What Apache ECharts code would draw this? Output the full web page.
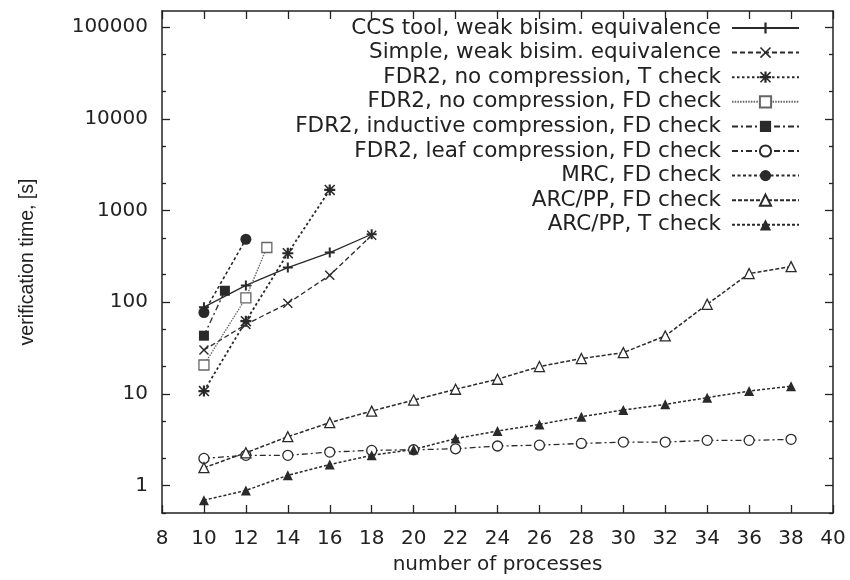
<!DOCTYPE html>
<html>
<head>
<meta charset="utf-8">
<script src="https://cdn.jsdelivr.net/npm/echarts@6/dist/echarts.min.js"></script>
<style>
html,body{margin:0;padding:0;background:#fff;}
#main{width:850px;height:580px;}
</style>
</head>
<body>
<div id="main"></div>
<script>
// ---- data ----
const seriesNames = [
  'CCS tool, weak bisim. equivalence',
  'Simple, weak bisim. equivalence',
  'FDR2, no compression, T check',
  'FDR2, no compression, FD check',
  'FDR2, inductive compression, FD check',
  'FDR2, leaf compression, FD check',
  'MRC, FD check',
  'ARC/PP, FD check',
  'ARC/PP, T check'
];
const ccsN = [10, 12, 14, 16, 18];
const ccsT = [88, 152, 238, 347, 550];
const simpleN = [10, 12, 14, 16, 18];
const simpleT = [30, 57, 97, 196, 536];
const fdrTN = [10, 12, 14, 16];
const fdrTT = [10.7, 62, 341, 1675];
const fdrFdN = [10, 12, 13];
const fdrFdT = [20.6, 111, 394];
const indN = [10, 11];
const indT = [43, 133];
const leafN = [10, 12, 14, 16, 18, 20, 22, 24, 26, 28, 30, 32, 34, 36, 38];
const leafT = [1.97, 2.13, 2.13, 2.31, 2.41, 2.45, 2.51, 2.69, 2.75, 2.87, 2.97, 2.97, 3.1, 3.1, 3.18];
const mrcN = [10, 12];
const mrcT = [77, 485];
const arcFdN = [10, 12, 14, 16, 18, 20, 22, 24, 26, 28, 30, 32, 34, 36, 38];
const arcFdT = [1.56, 2.27, 3.4, 4.84, 6.47, 8.53, 11.2, 14.4, 19.8, 24.2, 28.1, 42.7, 94.6, 205, 244];
const arcTN = [10, 12, 14, 16, 18, 20, 22, 24, 26, 28, 30, 32, 34, 36, 38];
const arcTT = [0.69, 0.88, 1.29, 1.69, 2.13, 2.47, 3.24, 3.92, 4.63, 5.62, 6.64, 7.66, 9.06, 10.7, 12.1];
const yMajorTicks = [1, 10, 100, 1000, 10000, 100000];
const yMinorTicks = [0.5, 2, 5, 20, 50, 200, 500, 2000, 5000, 20000, 50000];
const xTicks = [8, 10, 12, 14, 16, 18, 20, 22, 24, 26, 28, 30, 32, 34, 36, 38, 40];
const xTitle = 'number of processes';
const yTitle = 'verification time, [s]';

// ---- styling ----
const C = '#2a2a2a';
const plusPath = 'path://M4,0h2v4h4v2h-4v4h-2v-4h-4v-2h4z';
const xPath = 'path://M0,1L1,0L5,4L9,0L10,1L6,5L10,9L9,10L5,6L1,10L0,9L4,5Z';
const starPath = 'path://M4,0h2v4h4v2h-4v4h-2v-4h-4v-2h4zM0,1L1,0L5,4L9,0L10,1L6,5L10,9L9,10L5,6L1,10L0,9L4,5Z';

function pairs(n, t) { return n.map((v, i) => [v, t[i]]); }

const styles = [
  {n: ccsN, t: ccsT, symbol: plusPath, size: 10, fill: C, dash: 'solid', color: C, w: 1.3},
  {n: simpleN, t: simpleT, symbol: xPath, size: 10, fill: C, dash: [5, 3], color: C, w: 1.3},
  {n: fdrTN, t: fdrTT, symbol: starPath, size: 11, fill: C, dash: [2.5, 2.5], color: C, w: 1.8},
  {n: fdrFdN, t: fdrFdT, symbol: 'rect', size: 10, fill: '#fff', dash: [1.5, 1.2], color: '#666', w: 1.3},
  {n: indN, t: indT, symbol: 'rect', size: 10, fill: C, dash: [6, 3, 2, 3], color: C, w: 1.3},
  {n: leafN, t: leafT, symbol: 'circle', size: 10, fill: '#fff', dash: [6, 3, 2, 3], color: C, w: 1.3},
  {n: mrcN, t: mrcT, symbol: 'circle', size: 11, fill: C, dash: [3, 2.5], color: C, w: 1.6},
  {n: arcFdN, t: arcFdT, symbol: 'triangle', size: 10, fill: '#fff', dash: [4, 2], color: C, w: 1.5},
  {n: arcTN, t: arcTT, symbol: 'triangle', size: 10, fill: C, dash: [3, 2], color: C, w: 1.5}
];

const series = styles.map((s, i) => ({
  name: seriesNames[i],
  type: 'line',
  data: pairs(s.n, s.t),
  symbol: s.symbol,
  symbolSize: s.size,
  showAllSymbol: true,
  animation: false,
  lineStyle: {color: s.color, width: s.w, type: s.dash},
  itemStyle: {color: s.fill, borderColor: s.color, borderWidth: (s.fill === '#fff') ? 1.3 : 0},
  emphasis: {disabled: true}
}));

const tickFont = {fontFamily: 'DejaVu Sans', fontSize: 20, color: '#222'};
const axisLineStyle = {lineStyle: {color: '#222', width: 1.5}};
const yMin = 0.5, yMax = 150000;

function yAxisDef(pos, ticks, len, showLabels, showLine) {
  return {
    type: 'log', logBase: 10, min: yMin, max: yMax, position: pos,
    axisLine: {show: showLine, onZero: false, lineStyle: {color: '#222', width: 1.5}},
    axisTick: {show: true, inside: true, length: len, customValues: ticks, lineStyle: {color: '#222', width: 1.3}},
    axisLabel: showLabels ? Object.assign({show: true, margin: 14, customValues: yMajorTicks, formatter: v => String(v)}, tickFont) : {show: false},
    splitLine: {show: false}, minorTick: {show: false}
  };
}

const option = {
  backgroundColor: '#fff',
  animation: false,
  grid: {left: 162, right: 17, top: 11, bottom: 66, containLabel: false},
  legend: {
    orient: 'vertical', right: 45, top: 12, align: 'right',
    itemWidth: 67, itemHeight: 14, itemGap: 2.6,
    textStyle: {fontFamily: 'DejaVu Sans', fontSize: 21.5, color: '#222', lineHeight: 22, padding: [0, 6, 0, 0]},
    data: seriesNames,
    selectedMode: false
  },
  xAxis: [
    {
      type: 'value', min: 8, max: 40, interval: 2, position: 'bottom',
      name: xTitle, nameLocation: 'middle', nameGap: 42,
      nameTextStyle: {fontFamily: 'DejaVu Sans', fontSize: 20, color: '#222'},
      axisLine: Object.assign({show: true, onZero: false}, axisLineStyle),
      axisTick: {show: true, inside: true, length: 8, customValues: xTicks, lineStyle: {color: '#222', width: 1.3}},
      axisLabel: Object.assign({margin: 16, customValues: xTicks}, tickFont),
      splitLine: {show: false}
    },
    {
      type: 'value', min: 8, max: 40, interval: 2, position: 'top',
      axisLine: Object.assign({show: true, onZero: false}, axisLineStyle),
      axisTick: {show: true, inside: true, length: 8, customValues: xTicks, lineStyle: {color: '#222', width: 1.3}},
      axisLabel: {show: false},
      splitLine: {show: false}
    }
  ],
  yAxis: [
    Object.assign(yAxisDef('left', yMajorTicks, 8, true, true), {
      name: yTitle, nameLocation: 'middle', nameGap: 124, nameRotate: 90,
      nameTextStyle: {fontFamily: 'Liberation Sans', fontSize: 19.5, color: '#222'}
    }),
    yAxisDef('left', yMinorTicks, 4, false, false),
    yAxisDef('right', yMajorTicks, 8, false, true),
    yAxisDef('right', yMinorTicks, 4, false, false)
  ],
  series: series
};

const chart = echarts.init(document.getElementById('main'), null, {renderer: 'canvas'});
chart.setOption(option);
</script>
</body>
</html>
